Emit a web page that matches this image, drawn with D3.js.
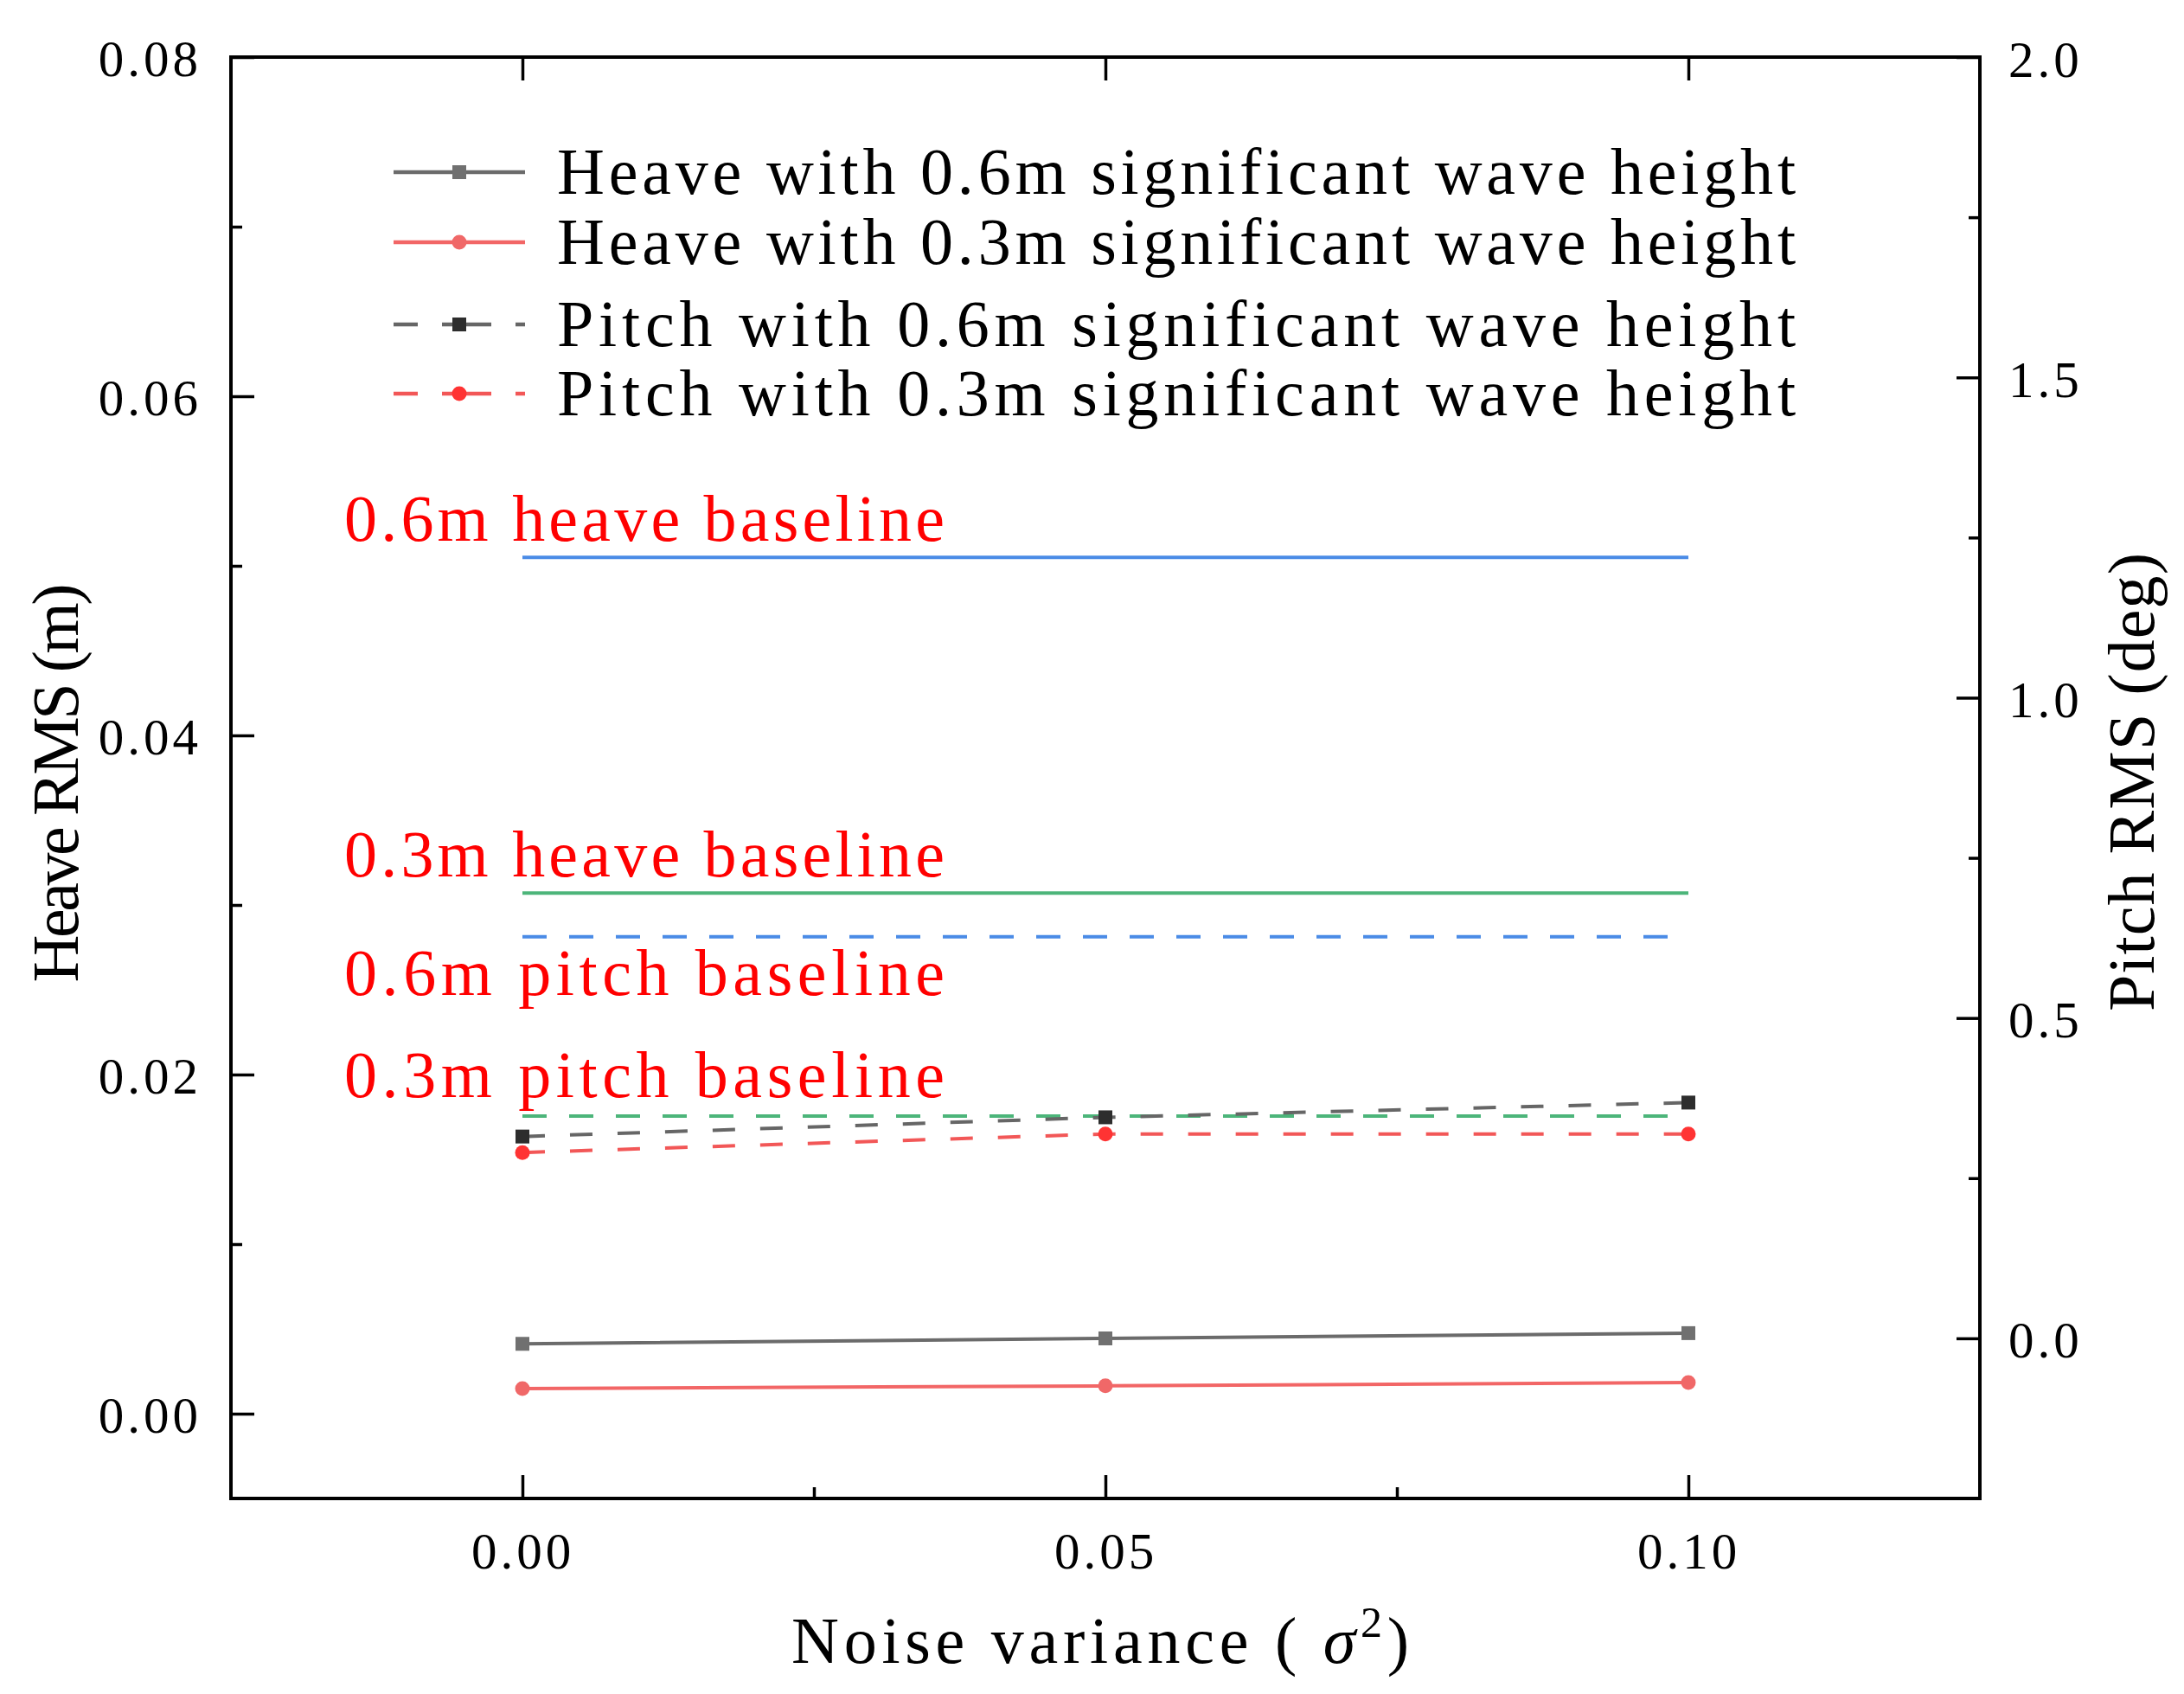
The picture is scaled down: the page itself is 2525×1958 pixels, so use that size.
<!DOCTYPE html>
<html>
<head>
<meta charset="utf-8">
<script src="https://cdn.jsdelivr.net/npm/d3@7"></script>
<style>
  body { margin: 0; background: #fff; }
  text { font-family: "Liberation Serif", "DejaVu Serif", serif; }
</style>
</head>
<body>
<div id="chart"></div>
<script>
// data
var noise = [0.00, 0.05, 0.10];
var heave06 = [0.00412, 0.00444, 0.00475];
var heave03 = [0.00148, 0.00164, 0.00184];
var pitch06 = [0.315, 0.345, 0.368];
var pitch03 = [0.290, 0.319, 0.319];
var baseNames = ["0.6m heave baseline", "0.3m heave baseline", "0.6m pitch baseline", "0.3m pitch baseline"];
var baseValues = [0.0505, 0.0307, 0.627, 0.347];
var baseAxis = ["left", "left", "right", "right"];
var seriesNames = ["Heave with 0.6m significant wave height", "Heave with 0.3m significant wave height",
                   "Pitch with 0.6m significant wave height", "Pitch with 0.3m significant wave height"];
var xTicks = [0.00, 0.05, 0.10];
var xMinor = [0.025, 0.075];
var leftTicks = [0.00, 0.02, 0.04, 0.06, 0.08];
var leftMinor = [0.01, 0.03, 0.05, 0.07];
var rightTicks = [0.0, 0.5, 1.0, 1.5, 2.0];
var rightMinor = [0.25, 0.75, 1.25, 1.75];

var W = 2525, H = 1958;
var plot = {left: 267, right: 2289, top: 66, bottom: 1732};

var svg = d3.select("#chart").append("svg")
    .attr("width", W)
    .attr("height", H);

var x = d3.scaleLinear().domain([-0.025, 0.125]).range([plot.left, plot.right]);
var yL = d3.scaleLinear().domain([-0.005, 0.08]).range([plot.bottom, plot.top]);
var yR = d3.scaleLinear().domain([-0.25, 2.0]).range([plot.bottom, plot.top]);

function styleAxis(g, size) {
  g.select(".domain").remove();
  g.selectAll(".tick line").attr("stroke", "#000").attr("stroke-width", 3.5);
  g.selectAll(".tick text")
    .attr("fill", "#000")
    .style("font-family", "'Liberation Serif', serif")
    .style("font-size", size + "px")
    .style("letter-spacing", "4px");
}

// bottom axis
svg.append("g")
  .attr("transform", "translate(0," + plot.bottom + ")")
  .call(d3.axisBottom(x).tickValues(xTicks).tickSize(-27).tickPadding(0).tickFormat(d3.format(".2f")))
  .call(styleAxis, 59)
  .selectAll(".tick text").attr("y", 81).attr("dy", 0);
svg.append("g")
  .attr("transform", "translate(0," + plot.bottom + ")")
  .call(d3.axisBottom(x).tickValues(xMinor).tickSize(-13).tickFormat(""))
  .call(styleAxis, 59);
// top axis (mirrored major ticks)
svg.append("g")
  .attr("transform", "translate(0," + plot.top + ")")
  .call(d3.axisTop(x).tickValues(xTicks).tickSize(-27).tickFormat(""))
  .call(styleAxis, 59);

// left axis
svg.append("g")
  .attr("transform", "translate(" + plot.left + ",0)")
  .call(d3.axisLeft(yL).tickValues(leftTicks).tickSize(-27).tickPadding(34).tickFormat(d3.format(".2f")))
  .call(styleAxis, 59)
  .selectAll(".tick text").attr("dy", 21);
svg.append("g")
  .attr("transform", "translate(" + plot.left + ",0)")
  .call(d3.axisLeft(yL).tickValues(leftMinor).tickSize(-13).tickFormat(""))
  .call(styleAxis, 59);

// right axis
svg.append("g")
  .attr("transform", "translate(" + plot.right + ",0)")
  .call(d3.axisRight(yR).tickValues(rightTicks).tickSize(-27).tickPadding(33).tickFormat(d3.format(".1f")))
  .call(styleAxis, 59)
  .selectAll(".tick text").attr("dy", 22);
svg.append("g")
  .attr("transform", "translate(" + plot.right + ",0)")
  .call(d3.axisRight(yR).tickValues(rightMinor).tickSize(-13).tickFormat(""))
  .call(styleAxis, 59);

// frame
svg.append("rect")
  .attr("x", plot.left).attr("y", plot.top)
  .attr("width", plot.right - plot.left).attr("height", plot.bottom - plot.top)
  .attr("fill", "none").attr("stroke", "#000").attr("stroke-width", 4);

// baselines
var baseColors = ["#4a8be6", "#4cb57a", "#4a8be6", "#4cb57a"];
var baseDash = [null, null, "28,26", "28,26"];
var labelOffset = [-19, -19, 67, -22];
baseValues.forEach(function(v, i) {
  var ys = baseAxis[i] == "left" ? yL : yR;
  svg.append("line")
    .attr("x1", x(noise[0])).attr("x2", x(noise[noise.length - 1]))
    .attr("y1", ys(v)).attr("y2", ys(v))
    .attr("stroke", baseColors[i])
    .attr("stroke-width", 4)
    .attr("stroke-dasharray", baseDash[i]);
  svg.append("text")
    .attr("x", 398)
    .attr("y", ys(v) + labelOffset[i])
    .attr("fill", "#ff0000")
    .style("font-size", "76px")
    .attr("textLength", 694)
    .attr("lengthAdjust", "spacing")
    .text(baseNames[i]);
});

// series
var series = [
  {vals: heave06, ys: yL, line: "#6b6b6b", mark: "#707070", shape: "square", dash: null},
  {vals: heave03, ys: yL, line: "#f26666", mark: "#f06868", shape: "circle", dash: null},
  {vals: pitch06, ys: yR, line: "#666666", mark: "#2d2d2d", shape: "square", dash: "26,29"},
  {vals: pitch03, ys: yR, line: "#f25757", mark: "#ff3333", shape: "circle", dash: "26,29"}
];

function drawMarker(g, shape, color, cx, cy) {
  if (shape == "square") {
    g.append("rect")
      .attr("x", cx - 8).attr("y", cy - 8)
      .attr("width", 16).attr("height", 16)
      .attr("fill", color);
  } else {
    g.append("circle")
      .attr("cx", cx).attr("cy", cy)
      .attr("r", 8.5)
      .attr("fill", color);
  }
}

series.forEach(function(s) {
  var line = d3.line()
    .x(function(d, i) { return x(noise[i]); })
    .y(function(d) { return s.ys(d); });
  svg.append("path")
    .datum(s.vals)
    .attr("d", line)
    .attr("fill", "none")
    .attr("stroke", s.line)
    .attr("stroke-width", 4)
    .attr("stroke-dasharray", s.dash);
  var g = svg.append("g");
  s.vals.forEach(function(v, i) {
    drawMarker(g, s.shape, s.mark, x(noise[i]), s.ys(v));
  });
});

// legend
var legRows = [199, 280, 375, 455];
var legend = svg.append("g");
series.forEach(function(s, i) {
  legend.append("line")
    .attr("x1", 455).attr("x2", 607)
    .attr("y1", legRows[i]).attr("y2", legRows[i])
    .attr("stroke", s.line)
    .attr("stroke-width", 4.5)
    .attr("stroke-dasharray", s.dash ? "28,28,57,28,11" : null);
  drawMarker(legend, s.shape, s.mark, 531, legRows[i]);
  legend.append("text")
    .attr("x", 644)
    .attr("y", legRows[i] + 25)
    .attr("fill", "#000")
    .style("font-size", "76px")
    .attr("textLength", 1432)
    .attr("lengthAdjust", "spacing")
    .text(seriesNames[i]);
});

// axis titles
var xTitle = svg.append("text")
  .attr("x", 1272).attr("y", 1922)
  .attr("text-anchor", "middle")
  .style("font-size", "76px")
  .attr("textLength", 714)
  .attr("lengthAdjust", "spacing");
xTitle.append("tspan").text("Noise variance ( ");
xTitle.append("tspan").style("font-style", "italic").text("σ");
xTitle.append("tspan").attr("dy", -30).style("font-size", "50px").text("2");
xTitle.append("tspan").attr("dy", 30).text(")");

svg.append("text")
  .attr("transform", "translate(90,905) rotate(-90)")
  .attr("text-anchor", "middle")
  .style("font-size", "76px")
  .attr("textLength", 461)
  .attr("lengthAdjust", "spacing")
  .text("Heave RMS (m)");

svg.append("text")
  .attr("transform", "translate(2490,904) rotate(-90)")
  .attr("text-anchor", "middle")
  .style("font-size", "76px")
  .attr("textLength", 530)
  .attr("lengthAdjust", "spacing")
  .text("Pitch RMS (deg)");
</script>
</body>
</html>
